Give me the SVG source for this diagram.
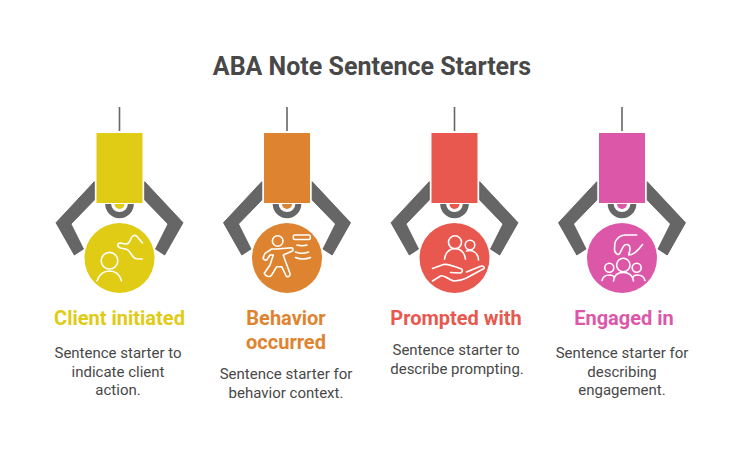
<svg xmlns="http://www.w3.org/2000/svg" width="744" height="474" viewBox="0 0 744 474">
<style>
text{font-family:Roboto,"Liberation Sans",sans-serif;text-anchor:middle}
.title{font-size:25px;font-weight:700;fill:#484848}
.label{font-size:20px;font-weight:700}
.body{font-size:15px;fill:#484848}
.cable{stroke:#666;stroke-width:1.6;fill:none}
.claw{fill:#666;stroke:#555;stroke-width:.8;stroke-linejoin:round}
.ic{fill:none;stroke:#fff;stroke-width:1.6;stroke-linecap:round;stroke-linejoin:round}
.y{fill:#E0CB15}.o{fill:#DE8431}.r{fill:#E8584F}.p{fill:#DD57A9}
</style>
<defs>
<g id="grip">
<line class="cable" x1="0" y1="107" x2="0" y2="131"/>
<path d="M-14.300 204A14.300 14.300 0 0 0 14.300 204Z" fill="#666"/>
<path class="claw" d="M-25.200 181.700L-63.500 222.700-45.200 255-36 249-48.500 224-25.200 200Z"/>
<path class="claw" d="M25.200 181.700L63.500 222.700 45.200 255 36 249 48.500 224 25.200 200Z"/>
<path d="M-8.300 204A8.300 8 0 0 0 8.300 204Z" fill="#fff"/>
</g>
</defs>
<text class="title" x="372" y="75">ABA Note Sentence Starters</text>
<g id="connectors"/>
<g id="node-client">
<use href="#grip" x="119.500"/>
<path class="y" d="M114.500 204A5 5 0 0 0 124.500 204Z"/>
<rect class="y" x="96.500" y="133" width="46" height="70"/>
<circle class="y" cx="119.500" cy="258" r="35"/>
<g class="ic" transform="translate(119.500 258)">
<circle cx="-10" cy="2.700" r="8.300"/>
<path d="M-22.500 22.700C-20 16-15 13-10 13S0 16 2 22.700"/>
<path d="M22.700 1L17 .8C12 .3 12-7 7-8.700L1-10C-2.500-11-2.500-15 .5-15L6-14C9-13.500 10-16 11.500-19.500 13-23 15.500-23.500 17.500-21.500L23-15"/>
</g>
<text class="label y" x="119.500" y="325">Client initiated</text>
<text class="body" x="118" y="358">Sentence starter to</text>
<text class="body" x="118" y="377">indicate client</text>
<text class="body" x="118" y="395">action.</text>
</g>
<g id="node-behavior">
<use href="#grip" x="287"/>
<path class="o" d="M282 204A5 5 0 0 0 292 204Z"/>
<rect class="o" x="264" y="133" width="46" height="70"/>
<circle class="o" cx="287" cy="258" r="35"/>
<g class="ic" transform="translate(287 258)">
<circle cx="-9.300" cy="-17" r="5.300"/>
<path d="M-10.300-9L4.700-10.300C6-10.300 6.500-7.500 5.300-7L-3.700-3-2 2 3 15.500C3.500 18 .5 20-.8 18L-5.300 8.700H-10.300L-15.300 17C-17 19.500-21 19-22.700 15.300L-17 7-13.700-3H-17L-20.300 2C-22 2.500-24.500 1-23.700-.5L-22-4.700-15.300-9Z"/>
<rect x="6.300" y="-23" width="17" height="4.500" rx="1.500"/>
<path d="M10-13Q15-11.500 20-13M8.500-6Q15-3.500 21.500-6M8.500-.5Q16 2.500 23.500-.5"/>
</g>
<text class="label o" x="286" y="325">Behavior</text>
<text class="label o" x="286" y="349">occurred</text>
<text class="body" x="286" y="379">Sentence starter for</text>
<text class="body" x="286" y="398">behavior context.</text>
</g>
<g id="node-prompted">
<use href="#grip" x="454.500"/>
<path class="r" d="M449.500 204A5 5 0 0 0 459.500 204Z"/>
<rect class="r" x="431.500" y="133" width="46" height="70"/>
<circle class="r" cx="454.500" cy="258" r="35"/>
<g class="ic" transform="translate(454.500 258)">
<circle cx=".5" cy="-15.700" r="6.500"/>
<path d="M-10 1.300C-9.500-5-5-9.500.5-9.500S10.500-5 11 1.300"/>
<circle cx="15.500" cy="-13" r="4.800"/>
<path d="M12-7C19-9 24-4 24 2"/>
<path d="M-22 10.500L-11 6.500C-7 5.500 2 9 7 11 9 12 7 15.500 5 15L-4 14.500"/>
<path d="M-22 23L-14 18C-10 16.500-4 23 0 23 5 23 10 21 12 20L29.500 10.500C30.500 8.500 28 7.500 25.500 8.500L12 14"/>
</g>
<text class="label r" x="456" y="325">Prompted with</text>
<text class="body" x="456" y="355">Sentence starter to</text>
<text class="body" x="457" y="374">describe prompting.</text>
</g>
<g id="node-engaged">
<use href="#grip" x="622"/>
<path class="p" d="M617 204A5 5 0 0 0 627 204Z"/>
<rect class="p" x="599" y="133" width="46" height="70"/>
<circle class="p" cx="622" cy="258" r="35"/>
<g class="ic" transform="translate(622 258)">
<circle cx="1.300" cy="7" r="6.700"/>
<circle cx="-12.700" cy="9.700" r="4.500"/>
<circle cx="14.700" cy="9.700" r="4.500"/>
<path d="M-8.500 23C-8 17-4 14.500 1.300 14.500S10.500 17 11.500 23"/>
<path d="M-20 22.500C-19 18-16 17-12.500 17-10 17-8 18-7.500 20M10.500 20C11 18 13 17 15.500 17 19 17 22 18.500 23 22.500"/>
<path d="M14.700-23H3.500C-2-23-5-20-7-15.500L-7.500-9.500C-8-5-3-1-1.500-6L1-11C3-15 8-14 8-9.500 8-6 6-3 7-3 11-3 15-6 20.500-13.500"/>
</g>
<text class="label p" x="624" y="325">Engaged in</text>
<text class="body" x="622" y="358">Sentence starter for</text>
<text class="body" x="622" y="377">describing</text>
<text class="body" x="622" y="395">engagement.</text>
</g>
</svg>
